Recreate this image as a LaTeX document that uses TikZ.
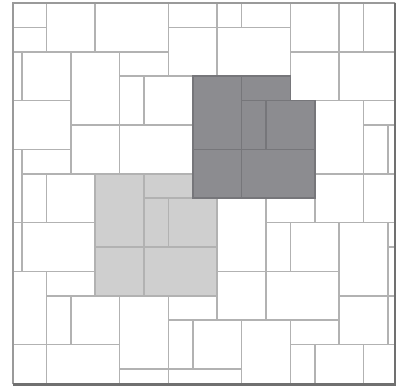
\documentclass[tikz,border=0pt]{standalone}
\usetikzlibrary{calc}
\definecolor{darkslab}{HTML}{8C8C90}
\definecolor{lightslab}{HTML}{CFCFCF}
\definecolor{jointc}{HTML}{B2B2B2}
\definecolor{jointdk}{HTML}{76767A}
\definecolor{rimlight}{HTML}{9A9A9A}
\definecolor{rimdark}{HTML}{707070}
\tikzset{
  joint/.style={draw=jointc, line width=0.9pt},
  jointdark/.style={draw=jointdk, line width=0.9pt},
  rimA/.style={draw=rimlight, line width=1.2pt, line cap=square},
  rimB/.style={draw=rimdark, line width=1.6pt, line cap=square},
}
% one repeat block of the paving: six slabs
\newcommand{\slabs}[1]{%
  \draw[#1] (0,0) rectangle (2,3);
  \draw[#1] (2,0) rectangle (4,1);
  \draw[#1] (2,1) rectangle (3,3);
  \draw[#1] (3,1) rectangle (5,3);
  \draw[#1] (0,3) rectangle (2,5);
  \draw[#1] (2,3) rectangle (5,5);}
\newcommand{\block}[2]{%
  \fill[#1, shift={#2}] (0,0) -- (4,0) -- (4,1) -- (5,1) -- (5,5) -- (0,5) -- cycle;}

\begin{document}
\begin{tikzpicture}[x=0.5cm, y=-0.5cm]
  \useasboundingbox (-0.902,-0.123) rectangle (15.861,15.861);
  \fill[white] (-0.902,-0.123) rectangle (15.861,15.861);
  \begin{scope}
    \clip (-0.37,0) rectangle (15.29,15.63);
    \block{darkslab}{(7,3)}
    \block{lightslab}{(3,7)}
    \foreach \m in {-3,...,3}{\foreach \n in {-4,...,3}{
      \begin{scope}[shift={({7+5*\n-4*\m},{3+\n+4*\m})}]
        \slabs{joint}
      \end{scope}}}
    % joints inside the dark block
    \begin{scope}[shift={(7,3)}]
      \slabs{jointdark}
    \end{scope}
  \end{scope}
  \coordinate (tl) at (-0.37,0);
  \coordinate (tr) at (15.29,0);
  \coordinate (br) at (15.29,15.63);
  \coordinate (bl) at (-0.37,15.63);
  \draw[rimA] (bl) -- (tl) -- (tr);
  \draw[rimB] (tr) -- (br) -- (bl);
\end{tikzpicture}
\end{document}
